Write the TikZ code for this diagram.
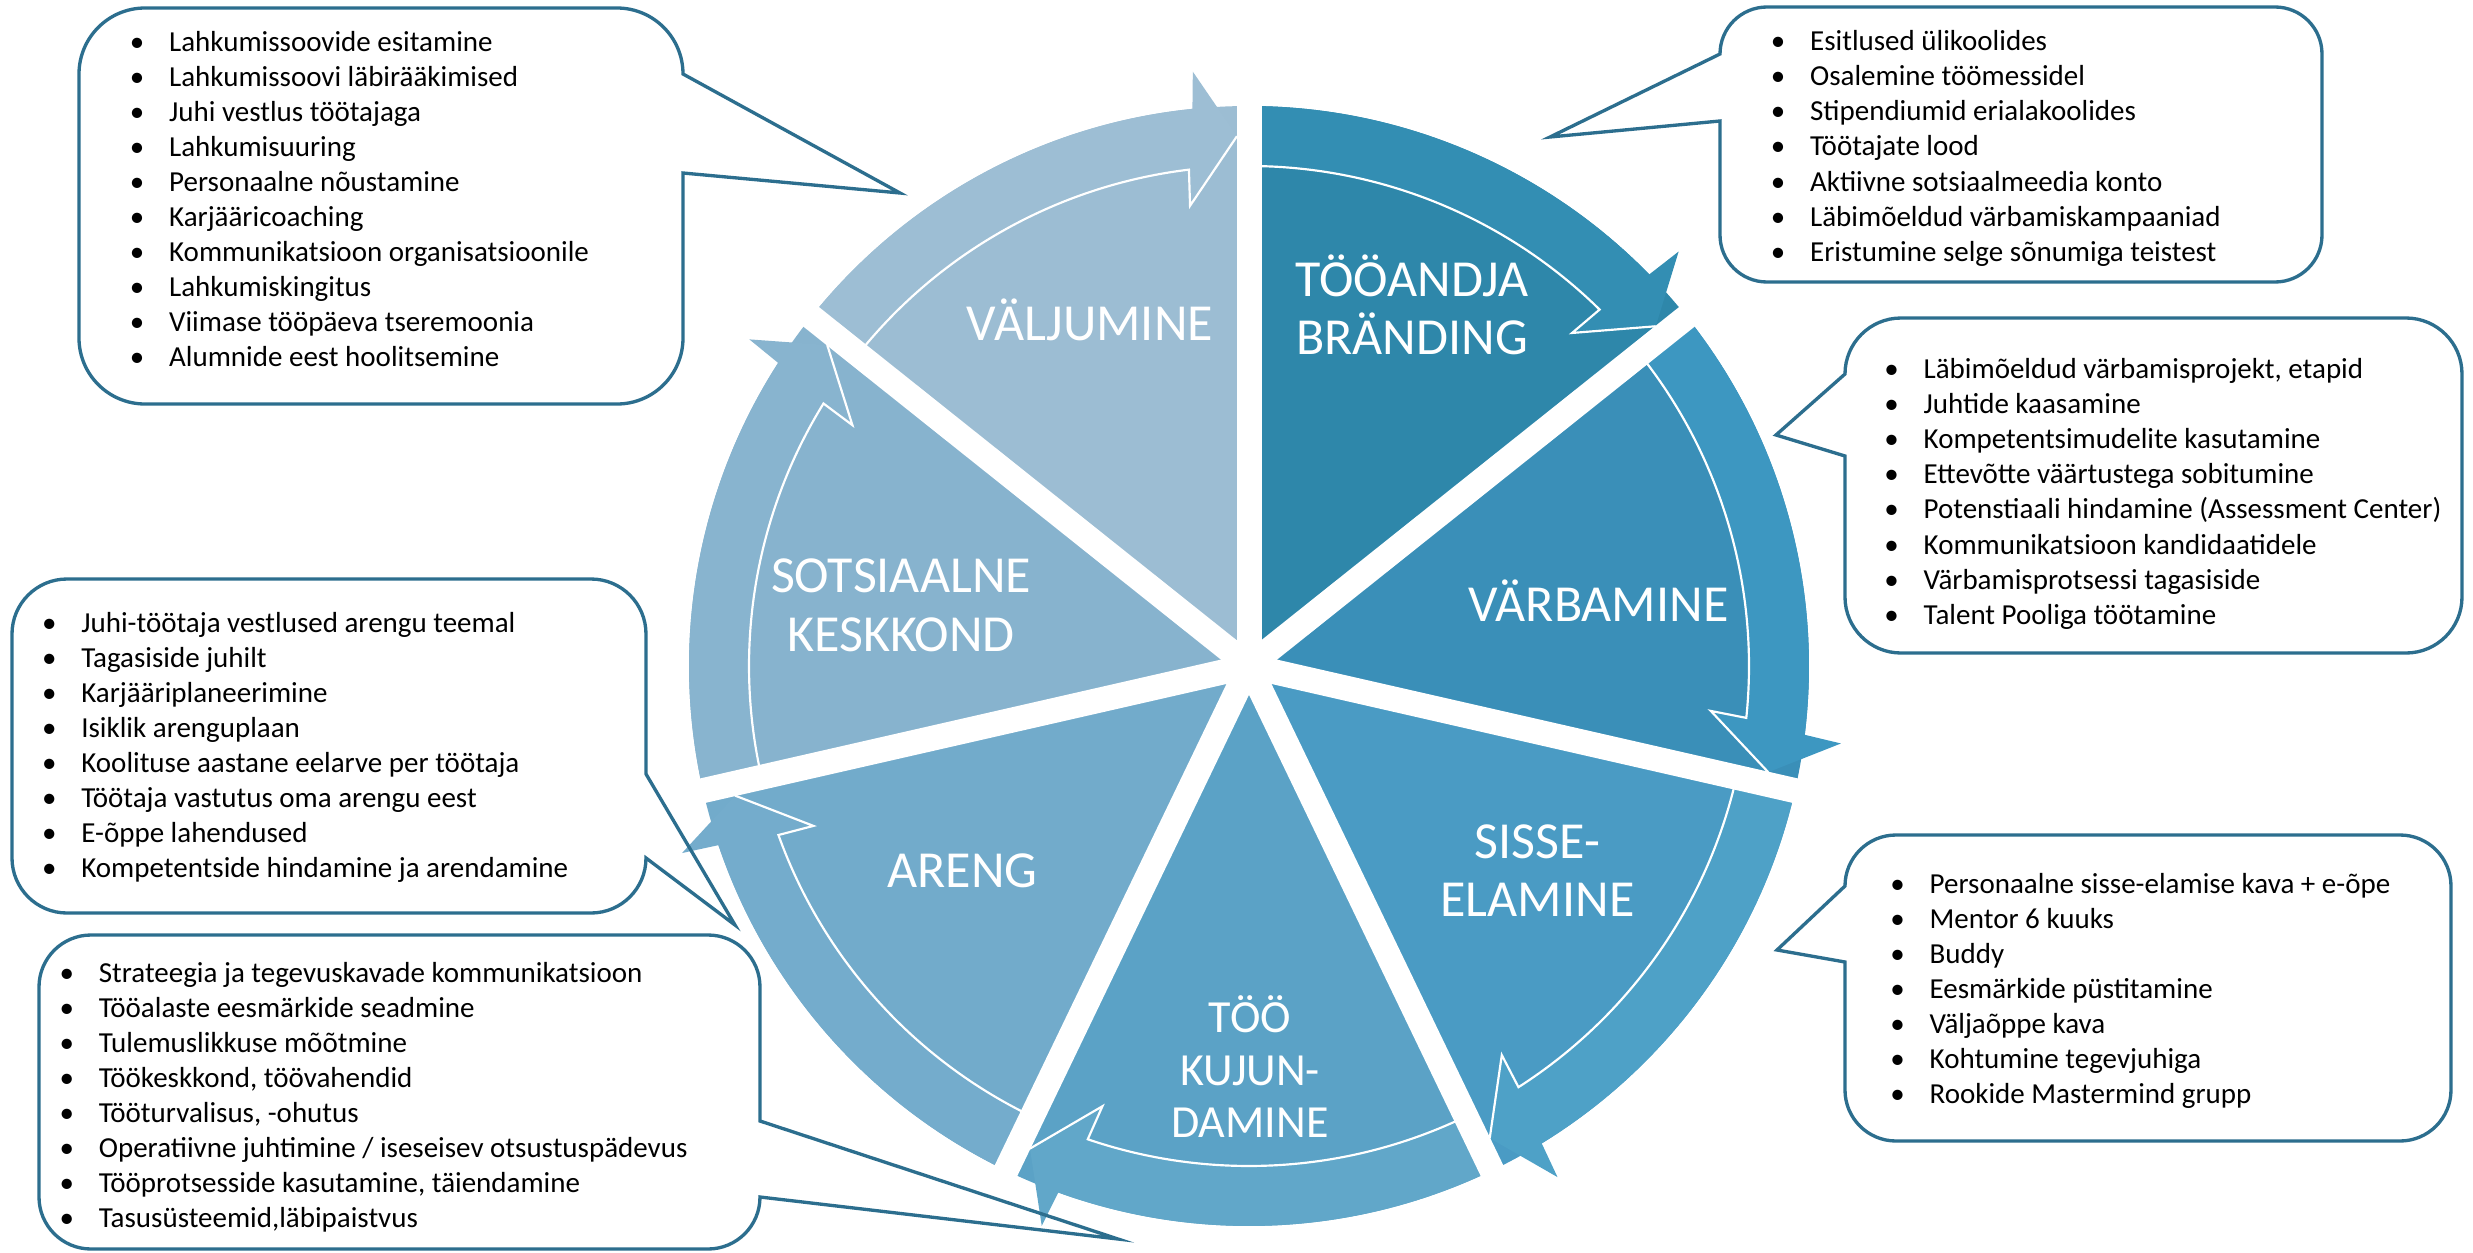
\documentclass[tikz,border=0pt]{standalone}
\usepackage{fontspec}
\setmainfont{Carlito}
\definecolor{co}{RGB}{44,110,142}
\definecolor{w1}{HTML}{2E87AA}\definecolor{b1}{HTML}{338EB3}
\definecolor{w2}{HTML}{3A8FB8}\definecolor{b2}{HTML}{3D97C1}
\definecolor{w3}{HTML}{4A9BC4}\definecolor{b3}{HTML}{4EA1C7}
\definecolor{w4}{HTML}{5BA2C6}\definecolor{b4}{HTML}{61A7C9}
\definecolor{w5}{HTML}{72ABCB}\definecolor{b5}{HTML}{74ACCC}
\definecolor{w6}{HTML}{87B3CE}\definecolor{b6}{HTML}{88B4CF}
\definecolor{w7}{HTML}{9CBDD3}\definecolor{b7}{HTML}{9DBED4}
\tikzset{
  callout/.style={draw=co, line width=1pt},
  itm/.style={anchor=base west, inner sep=0pt, font=\fontsize{8.7pt}{10.5pt}\selectfont, text=black},
  lbl/.style={anchor=base, inner sep=0pt, text=white, font=\fontsize{15.6pt}{17.4pt}\selectfont},
  lbls/.style={anchor=base, inner sep=0pt, text=white, font=\fontsize{13.8pt}{15.8pt}\selectfont},
  thinw/.style={draw=white, line width=0.65pt},
  gapline/.style={draw=white, line width=7.5pt},
}
\newcommand{\bul}{\llap{\makebox[0pt]{•}\hspace{9.6pt}}}
\newcommand{\wheelseg}[3]{%
  \pgfmathsetmacro{\segE}{#1-51.4286}%
  \pgfmathsetmacro{\segA}{\segE+5.8}%
  \pgfmathsetmacro{\segB}{\segE+5.4}%
  \pgfmathsetmacro{\segT}{\segE+1.3}%
  \pgfmathsetmacro{\segC}{\segE+7.3}%
  \pgfmathsetmacro{\segD}{\segE+6.9}%
  \fill[#2] (0,0) -- (#1:560) arc[start angle=#1, end angle=\segE, radius=560] -- cycle;
  \fill[#3] (#1:560) arc[start angle=#1, end angle=\segA, radius=560] -- (\segB:597) -- (\segT:530) -- (\segC:464) -- (\segD:500) arc[start angle=\segD, end angle=#1, radius=500] -- cycle;
  \draw[thinw] (#1:500) arc[start angle=#1, end angle=\segD, radius=500] -- (\segC:464) -- (\segT:530);
}
\newcommand{\itemlist}[5]{%
  \foreach \t [count=\i] in {#5} {\node[itm] (#1\i) at (#2, {#3+#4*(\i-1)}) {\bul\t};}
}
\begin{document}
\begin{tikzpicture}[x=0.3pt, y=-0.3pt]
\useasboundingbox (0,0) rectangle (2473,1253);
\fill[white] (0,0) rectangle (2473,1253);
% wheel
\begin{scope}[shift={(1249,666)}, yscale=-1]
  \wheelseg{90}{w1}{b1}
  \wheelseg{38.5714}{w2}{b2}
  \wheelseg{-12.8571}{w3}{b3}
  \wheelseg{-64.2857}{w4}{b4}
  \wheelseg{-115.7143}{w5}{b5}
  \wheelseg{-167.1429}{w6}{b6}
  \wheelseg{-218.5714}{w7}{b7}
  \foreach \g in {90,38.5714,-12.8571,-64.2857,-115.7143,-167.1429,-218.5714}
    \draw[gapline] (0,0) -- (\g:600);
\end{scope}
% segment labels
\node[lbl] (tA1) at (1412,296) {TÖÖANDJA};
\node[lbl] (tA2) at (1412,354) {BRÄNDING};
\node[lbl] (vr) at (1598.5,621) {VÄRBAMINE};
\node[lbl] (se1) at (1537.5,858) {SISSE-};
\node[lbl] (se2) at (1537.5,916) {ELAMINE};
\node[lbls] (tk1) at (1250,1032) {TÖÖ};
\node[lbls] (tk2) at (1250,1085) {KUJUN-};
\node[lbls] (tk3) at (1250,1137) {DAMINE};
\node[lbl] (ar) at (962.5,887) {ARENG};
\node[lbl] (so1) at (901,592) {SOTSIAALNE};
\node[lbl] (so2) at (901,651) {KESKKOND};
\node[lbl] (va) at (1090,340) {VÄLJUMINE};
% callouts
\draw[callout] (145,8) -- (617,8) arc[start angle=-90,end angle=0,radius=66] -- (900,193) -- (683,173) -- (683,338) arc[start angle=0,end angle=90,radius=66] -- (145,404) arc[start angle=90,end angle=180,radius=66] -- (79,74) arc[start angle=180,end angle=270,radius=66] -- cycle;
\draw[callout] (1767,7) -- (2275,7) arc[start angle=-90,end angle=0,radius=47] -- (2322,235) arc[start angle=0,end angle=90,radius=47] -- (1767,282) arc[start angle=90,end angle=180,radius=47] -- (1720,121) -- (1550,137) -- (1720,54) arc[start angle=180,end angle=270,radius=47] -- cycle;
\draw[callout] (1901,318) -- (2406,318) arc[start angle=-90,end angle=0,radius=56] -- (2462,597) arc[start angle=0,end angle=90,radius=56] -- (1901,653) arc[start angle=90,end angle=180,radius=56] -- (1845,456) -- (1776,435) -- (1845,374) arc[start angle=180,end angle=270,radius=56] -- cycle;
\draw[callout] (1896,835) -- (2400,835) arc[start angle=-90,end angle=0,radius=51] -- (2451,1090) arc[start angle=0,end angle=90,radius=51] -- (1896,1141) arc[start angle=90,end angle=180,radius=51] -- (1845,962) -- (1777,950) -- (1845,886) arc[start angle=180,end angle=270,radius=51] -- cycle;
\draw[callout] (67,579) -- (591,579) arc[start angle=-90,end angle=0,radius=55] -- (646,774) -- (735,925) -- (646,858) arc[start angle=0,end angle=90,radius=55] -- (67,913) arc[start angle=90,end angle=180,radius=55] -- (12,634) arc[start angle=180,end angle=270,radius=55] -- cycle;
\draw[callout] (91,935) -- (708,935) arc[start angle=-90,end angle=0,radius=52] -- (760,1121) -- (1118,1239) -- (760,1197) arc[start angle=0,end angle=90,radius=52] -- (91,1249) arc[start angle=90,end angle=180,radius=52] -- (39,987) arc[start angle=180,end angle=270,radius=52] -- cycle;
% callout texts
\itemlist{va}{168.5}{51}{35.05}{Lahkumissoovide esitamine, Lahkumissoovi läbirääkimised, Juhi vestlus töötajaga, Lahkumisuuring, Personaalne nõustamine, Karjääricoaching, Kommunikatsioon organisatsioonile, Lahkumiskingitus, Viimase tööpäeva tseremoonia, Alumnide eest hoolitsemine}
\itemlist{ta}{1809.5}{50}{35.3}{Esitlused ülikoolides, Osalemine töömessidel, Stipendiumid erialakoolides, Töötajate lood, Aktiivne sotsiaalmeedia konto, Läbimõeldud värbamiskampaaniad, Eristumine selge sõnumiga teistest}
\itemlist{vb}{1923}{378}{35.2}{{Läbimõeldud värbamisprojekt, etapid}, Juhtide kaasamine, Kompetentsimudelite kasutamine, Ettevõtte väärtustega sobitumine, Potenstiaali hindamine (Assessment Center), Kommunikatsioon kandidaatidele, Värbamisprotsessi tagasiside, Talent Pooliga töötamine}
\itemlist{se}{1929}{893}{35.1}{Personaalne sisse-elamise kava + e-õpe, Mentor 6 kuuks, Buddy, Eesmärkide püstitamine, Väljaõppe kava, Kohtumine tegevjuhiga, Rookide Mastermind grupp}
\itemlist{ag}{80.7}{632}{35.1}{Juhi-töötaja vestlused arengu teemal, Tagasiside juhilt, Karjääriplaneerimine, Isiklik arenguplaan, Koolituse aastane eelarve per töötaja, Töötaja vastutus oma arengu eest, E-õppe lahendused, Kompetentside hindamine ja arendamine}
\itemlist{tk}{98.2}{982}{35.1}{Strateegia ja tegevuskavade kommunikatsioon, Tööalaste eesmärkide seadmine, Tulemuslikkuse mõõtmine, {Töökeskkond, töövahendid}, {Tööturvalisus, -ohutus}, Operatiivne juhtimine / iseseisev otsustuspädevus, {Tööprotsesside kasutamine, täiendamine}, {Tasusüsteemid,läbipaistvus}}
\end{tikzpicture}
\end{document}
